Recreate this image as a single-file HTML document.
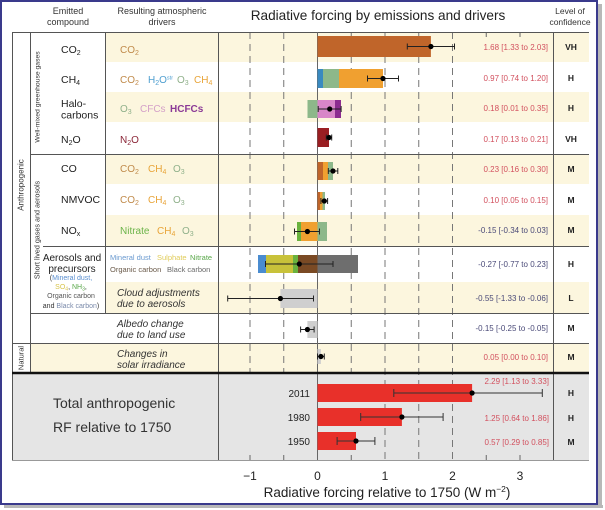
<!DOCTYPE html>
<html><head><meta charset="utf-8"><style>
html,body{margin:0;padding:0;background:#fff;}
svg{display:block;font-family:"Liberation Sans",Arial,sans-serif;}
</style></head><body>
<svg width="605" height="510" viewBox="0 0 605 510" xmlns="http://www.w3.org/2000/svg">
<rect width="605" height="510" fill="#fff"/>
<!-- shadow + frame -->
<rect x="4" y="505" width="599" height="3" fill="#b8b8b8"/>
<rect x="598" y="4" width="4" height="504" fill="#b8b8b8"/>
<rect x="1" y="1" width="596" height="503" fill="none" stroke="#3a3a8c" stroke-width="2"/>

<!-- bands -->
<g fill="#fcf6de">
<rect x="105" y="32" width="484" height="30"/>
<rect x="105" y="92" width="484" height="30"/>
<rect x="105" y="154" width="484" height="30"/>
<rect x="105" y="215" width="484" height="31"/>
<rect x="105" y="282" width="484" height="31"/>
<rect x="30" y="343" width="559" height="30"/>
</g>
<rect x="12" y="373" width="577" height="87" fill="#e5e5e5"/>

<!-- dashed grid -->
<g stroke="#777" stroke-width="1" stroke-dasharray="7,5">
<line x1="250" y1="32" x2="250" y2="373"/>
<line x1="283.75" y1="32" x2="283.75" y2="373"/>
<line x1="351.25" y1="32" x2="351.25" y2="373"/>
<line x1="385" y1="32" x2="385" y2="460"/>
<line x1="418.75" y1="32" x2="418.75" y2="460"/>
<line x1="452.5" y1="32" x2="452.5" y2="460"/>
</g>
<g stroke="#666" stroke-width="1">
<line x1="486.25" y1="32" x2="486.25" y2="37"/>
<line x1="520" y1="32" x2="520" y2="37"/>
<line x1="250" y1="455" x2="250" y2="460"/>
<line x1="283.75" y1="455" x2="283.75" y2="460"/>
<line x1="351.25" y1="455" x2="351.25" y2="460"/>
<line x1="486.25" y1="455" x2="486.25" y2="460"/>
<line x1="520" y1="455" x2="520" y2="460"/>
</g>

<!-- table lines -->
<g stroke="#555" stroke-width="1" fill="none">
<line x1="12" y1="32.5" x2="589" y2="32.5"/>
<line x1="30" y1="154.5" x2="589" y2="154.5"/>
<line x1="43" y1="246.5" x2="589" y2="246.5"/>
<line x1="30" y1="313.5" x2="589" y2="313.5"/>
<line x1="12" y1="343.5" x2="589" y2="343.5"/>
<line x1="12.5" y1="32" x2="12.5" y2="460"/>
<line x1="30.5" y1="32" x2="30.5" y2="373"/>
<line x1="105.5" y1="32" x2="105.5" y2="313"/>
<line x1="218.5" y1="32" x2="218.5" y2="460"/>
<line x1="553.5" y1="32" x2="553.5" y2="460"/>
<line x1="317.5" y1="32" x2="317.5" y2="460" stroke="#666"/>
</g>
<line x1="12" y1="460.5" x2="589" y2="460.5" stroke="#999" stroke-width="1"/>
<line x1="12" y1="373" x2="589" y2="373" stroke="#111" stroke-width="2.5"/>

<!-- bars -->
<rect x="317.5" y="36" width="113.4" height="21" fill="#c0652a"/>
<rect x="317.5" y="69" width="5.5" height="19" fill="#3a8ac0"/>
<rect x="323" y="69" width="16" height="19" fill="#8db88a"/>
<rect x="339" y="69" width="44" height="19" fill="#f0a030"/>
<rect x="307.5" y="100" width="10" height="18" fill="#8db88a"/>
<rect x="317.5" y="100" width="17.5" height="18" fill="#d886c8"/>
<rect x="335" y="100" width="6" height="18" fill="#8c2c90"/>
<rect x="317.5" y="128" width="11.5" height="19" fill="#9a1e22"/>
<rect x="317.5" y="162" width="5.5" height="18" fill="#c0652a"/>
<rect x="323" y="162" width="5" height="18" fill="#f0a030"/>
<rect x="328" y="162" width="5" height="18" fill="#8db88a"/>
<rect x="317.5" y="192" width="2.5" height="18" fill="#c0652a"/>
<rect x="320" y="192" width="2.5" height="18" fill="#f0a030"/>
<rect x="322.5" y="192" width="2.5" height="18" fill="#8db88a"/>
<rect x="297" y="222" width="4" height="19" fill="#6ab23e"/>
<rect x="301" y="222" width="16.5" height="19" fill="#f0a030"/>
<rect x="317.5" y="222" width="9.5" height="19" fill="#8db88a"/>
<rect x="258" y="255" width="8" height="18" fill="#4a8cd0"/>
<rect x="266" y="255" width="27" height="18" fill="#c8c23a"/>
<rect x="293" y="255" width="5" height="18" fill="#6ab23e"/>
<rect x="298" y="255" width="19.5" height="18" fill="#7a4a24"/>
<rect x="317.5" y="255" width="40.5" height="18" fill="#6e6e6e"/>
<rect x="280.4" y="289" width="37.1" height="19" fill="#cfcfcf"/>
<rect x="307.4" y="321" width="10.1" height="17" fill="#cfcfcf"/>
<rect x="317.5" y="349" width="3.4" height="15" fill="#cfcfcf"/>
<rect x="317.5" y="384" width="154.6" height="18" fill="#e8302a"/>
<rect x="317.5" y="408" width="84.4" height="18" fill="#e8302a"/>
<rect x="317.5" y="432" width="38.5" height="18" fill="#e8302a"/>

<!-- error bars -->
<g stroke="#222" stroke-width="1" fill="none">
<path d="M407.3 46.5H454.5M407.3 43.5V49.5M454.5 43.5V49.5"/>
<path d="M367.5 78.5H398.5M367.5 75.5V81.5M398.5 75.5V81.5"/>
<path d="M318.2 109H341.1M318.2 106V112M341.1 106V112"/>
<path d="M326.3 137.5H331.7M326.3 134.5V140.5M331.7 134.5V140.5"/>
<path d="M328.3 171H337.8M328.3 168V174M337.8 168V174"/>
<path d="M320.9 201H327.6M320.9 198V204M327.6 198V204"/>
<path d="M294.5 231.5H319.5M294.5 228.5V234.5M319.5 228.5V234.5"/>
<path d="M265.5 264H333M265.5 261V267M333 261V267"/>
<path d="M227.7 298.5H313.5M227.7 295.5V301.5M313.5 295.5V301.5"/>
<path d="M300.6 329.5H314.1M300.6 326.5V332.5M314.1 326.5V332.5"/>
<path d="M317.5 356.5H324.3M317.5 353.5V359.5M324.3 353.5V359.5"/>
<path d="M393.8 393H542.3M393.8 389V397M542.3 389V397" stroke="#333"/>
<path d="M360.7 417H443.1M360.7 413V421M443.1 413V421" stroke="#333"/>
<path d="M337.1 441H374.9M337.1 437V445M374.9 437V445" stroke="#333"/>
</g>
<g fill="#000">
<circle cx="430.9" cy="46.5" r="2.6"/>
<circle cx="383" cy="78.5" r="2.6"/>
<circle cx="329.7" cy="109" r="2.6"/>
<circle cx="329" cy="137.5" r="2.6"/>
<circle cx="333" cy="171" r="2.6"/>
<circle cx="324.3" cy="201" r="2.6"/>
<circle cx="307.4" cy="231.5" r="2.6"/>
<circle cx="299.3" cy="264" r="2.6"/>
<circle cx="280.4" cy="298.5" r="2.6"/>
<circle cx="307.4" cy="329.5" r="2.6"/>
<circle cx="320.9" cy="356.5" r="2.6"/>
<circle cx="472.1" cy="393" r="2.6"/>
<circle cx="401.9" cy="417" r="2.6"/>
<circle cx="356" cy="441" r="2.6"/>
</g>

<!-- headers -->
<g font-size="9" fill="#333" text-anchor="middle">
<text x="68" y="14">Emitted</text>
<text x="68" y="25">compound</text>
<text x="162" y="14">Resulting atmospheric</text>
<text x="162" y="25">drivers</text>
<text x="570" y="14" font-size="8.5">Level of</text>
<text x="570" y="25" font-size="8.5">confidence</text>
</g>
<text x="378" y="20" font-size="13.6" fill="#222" text-anchor="middle">Radiative forcing by emissions and drivers</text>

<!-- rotated group labels -->
<g fill="#333" text-anchor="middle">
<text transform="translate(39.5,97) rotate(-90)" font-size="6.8">Well-mixed greenhouse gases</text>
<text transform="translate(39.5,230) rotate(-90)" font-size="7.2">Short lived gases and aerosols</text>
<text transform="translate(23.5,185) rotate(-90)" font-size="8">Anthropogenic</text>
<text transform="translate(23.5,358) rotate(-90)" font-size="7.5">Natural</text>
</g>

<!-- emitted compounds -->
<g font-size="10.5" fill="#222">
<text x="61" y="53">CO<tspan font-size="7" dy="2">2</tspan></text>
<text x="61" y="83">CH<tspan font-size="7" dy="2">4</tspan></text>
<text x="61" y="107">Halo-</text>
<text x="61" y="118.5">carbons</text>
<text x="61" y="143">N<tspan font-size="7" dy="2">2</tspan><tspan dy="-2">O</tspan></text>
<text x="61" y="172">CO</text>
<text x="61" y="203">NMVOC</text>
<text x="61" y="234">NO<tspan font-size="7" dy="2">x</tspan></text>
<text x="72" y="261" text-anchor="middle" font-size="10">Aerosols and</text>
<text x="72" y="272" text-anchor="middle" font-size="10">precursors</text>
</g>
<g font-size="7" text-anchor="middle">
<text x="71" y="280"><tspan fill="#333">(</tspan><tspan fill="#5a8fd0">Mineral dust,</tspan></text>
<text x="71" y="289"><tspan fill="#d8c44a">SO<tspan font-size="5" dy="1.5">4</tspan></tspan><tspan fill="#333" dy="-1.5">, </tspan><tspan fill="#5aa84a">NH<tspan font-size="5" dy="1.5">3</tspan></tspan><tspan fill="#333" dy="-1.5">,</tspan></text>
<text x="71" y="298" fill="#555">Organic carbon</text>
<text x="71" y="308"><tspan fill="#333">and </tspan><tspan fill="#7a8aaa">Black carbon</tspan><tspan fill="#333">)</tspan></text>
</g>

<!-- drivers -->
<g font-size="10">
<text x="120" y="53" fill="#c08a4a">CO<tspan font-size="7" dy="2">2</tspan></text>
<text x="120" y="83" fill="#c08a4a">CO<tspan font-size="7" dy="2">2</tspan></text>
<text x="148" y="83" fill="#4f9fd0">H<tspan font-size="7" dy="2">2</tspan><tspan dy="-2">O</tspan><tspan font-size="5.5" dy="-3.5">str</tspan></text>
<text x="177" y="83" fill="#8fb08a">O<tspan font-size="7" dy="2">3</tspan></text>
<text x="194" y="83" fill="#e8a438">CH<tspan font-size="7" dy="2">4</tspan></text>
<text x="120" y="112" fill="#8fb08a">O<tspan font-size="7" dy="2">3</tspan></text>
<text x="140" y="112" fill="#d4a0c8">CFCs</text>
<text x="170" y="112" fill="#8b3a96" font-weight="bold">HCFCs</text>
<text x="120" y="143" fill="#8a2436">N<tspan font-size="7" dy="2">2</tspan><tspan dy="-2">O</tspan></text>
<text x="120" y="172" fill="#c08a4a">CO<tspan font-size="7" dy="2">2</tspan></text>
<text x="148" y="172" fill="#e8a438">CH<tspan font-size="7" dy="2">4</tspan></text>
<text x="173" y="172" fill="#8fb08a">O<tspan font-size="7" dy="2">3</tspan></text>
<text x="120" y="203" fill="#c08a4a">CO<tspan font-size="7" dy="2">2</tspan></text>
<text x="148" y="203" fill="#e8a438">CH<tspan font-size="7" dy="2">4</tspan></text>
<text x="173" y="203" fill="#8fb08a">O<tspan font-size="7" dy="2">3</tspan></text>
<text x="120" y="234" fill="#6cb44a">Nitrate</text>
<text x="157" y="234" fill="#e8a438">CH<tspan font-size="7" dy="2">4</tspan></text>
<text x="182" y="234" fill="#8fb08a">O<tspan font-size="7" dy="2">3</tspan></text>
</g>
<g font-size="7.5">
<text x="110" y="260" fill="#6a9ad0">Mineral dust</text>
<text x="157" y="260" fill="#e0cc5a">Sulphate</text>
<text x="190" y="260" fill="#5aa84a">Nitrate</text>
<text x="110" y="272" fill="#6a5a4a">Organic carbon</text>
<text x="167" y="272" fill="#6a6a6a">Black carbon</text>
</g>
<g font-size="10" font-style="italic" fill="#333">
<text x="117" y="296">Cloud adjustments</text>
<text x="117" y="307">due to aerosols</text>
<text x="117" y="327">Albedo change</text>
<text x="117" y="338">due to land use</text>
<text x="117" y="357">Changes in</text>
<text x="117" y="368">solar irradiance</text>
</g>

<!-- values -->
<g font-size="8" text-anchor="end">
<text x="548" y="50" fill="#d2505e">1.68 [1.33 to 2.03]</text>
<text x="548" y="81" fill="#d2505e">0.97 [0.74 to 1.20]</text>
<text x="548" y="111" fill="#d2505e">0.18 [0.01 to 0.35]</text>
<text x="548" y="142" fill="#d2505e">0.17 [0.13 to 0.21]</text>
<text x="548" y="172" fill="#d2505e">0.23 [0.16 to 0.30]</text>
<text x="548" y="203" fill="#d2505e">0.10 [0.05 to 0.15]</text>
<text x="548" y="233" fill="#4a4a78">-0.15 [-0.34 to 0.03]</text>
<text x="548" y="267" fill="#4a4a78">-0.27 [-0.77 to 0.23]</text>
<text x="548" y="301" fill="#4a4a78">-0.55 [-1.33 to -0.06]</text>
<text x="548" y="331" fill="#4a4a78">-0.15 [-0.25 to -0.05]</text>
<text x="548" y="360" fill="#d2505e">0.05 [0.00 to 0.10]</text>
<text x="549" y="384" fill="#d2505e">2.29 [1.13 to 3.33]</text>
<text x="549" y="421" fill="#d2505e">1.25 [0.64 to 1.86]</text>
<text x="549" y="445" fill="#d2505e">0.57 [0.29 to 0.85]</text>
</g>
<g font-size="8.5" font-weight="bold" fill="#222" text-anchor="middle">
<text x="571" y="50">VH</text>
<text x="571" y="81">H</text>
<text x="571" y="111">H</text>
<text x="571" y="142">VH</text>
<text x="571" y="172">M</text>
<text x="571" y="203">M</text>
<text x="571" y="233">M</text>
<text x="571" y="267">H</text>
<text x="571" y="301">L</text>
<text x="571" y="331">M</text>
<text x="571" y="360">M</text>
<text x="571" y="396">H</text>
<text x="571" y="421">H</text>
<text x="571" y="445">M</text>
</g>

<!-- total section -->
<g font-size="14" fill="#333">
<text x="53" y="408">Total anthropogenic</text>
<text x="53" y="432">RF relative to 1750</text>
</g>
<g font-size="10" fill="#222" text-anchor="end">
<text x="310" y="397">2011</text>
<text x="310" y="421">1980</text>
<text x="310" y="445">1950</text>
</g>

<!-- axis -->
<g font-size="12" fill="#222" text-anchor="middle">
<text x="250" y="480">−1</text>
<text x="317.5" y="480">0</text>
<text x="385" y="480">1</text>
<text x="452.5" y="480">2</text>
<text x="520" y="480">3</text>
</g>
<text x="387" y="497" font-size="13.5" fill="#222" text-anchor="middle">Radiative forcing relative to 1750 (W m<tspan font-size="8.5" dy="-5">−2</tspan><tspan dy="5">)</tspan></text>
</svg>
</body></html>
